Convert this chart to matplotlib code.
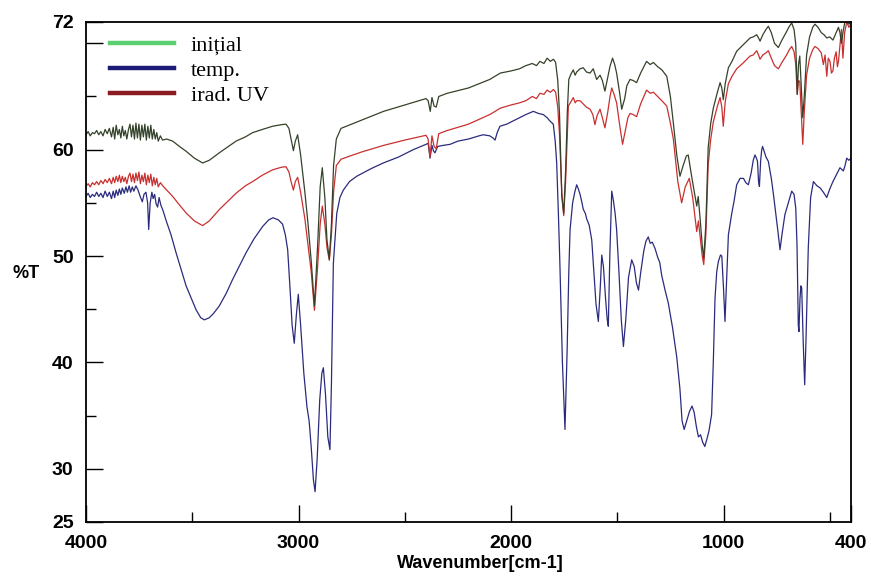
import numpy as np
import matplotlib
matplotlib.use('Agg')
import matplotlib.pyplot as plt
from matplotlib.lines import Line2D

# spectre IR: initial / temp. / irad. UV
wn_initial = [4000, 3990, 3980, 3970, 3960, 3950, 3940, 3930, 3920, 3910, 3900, 3890, 3880, 3872, 3865,
              3858, 3850, 3843, 3836, 3829, 3822, 3815, 3808, 3800, 3793, 3786, 3779, 3772, 3765, 3758,
              3751, 3744, 3737, 3730, 3723, 3716, 3709, 3702, 3695, 3688, 3681, 3674, 3667, 3660, 3650,
              3640, 3620, 3592, 3560, 3529, 3490, 3451, 3420, 3373, 3330, 3294, 3250, 3216, 3170, 3122,
              3080, 3059, 3045, 3035, 3024, 3015, 3004, 2990, 2970, 2955, 2940, 2925, 2910, 2898, 2888,
              2876, 2866, 2855, 2845, 2835, 2822, 2800, 2700, 2600, 2500, 2400, 2390, 2380, 2372, 2362,
              2352, 2340, 2300, 2200, 2100, 2050, 2000, 1960, 1930, 1900, 1880, 1864, 1845, 1830, 1815,
              1800, 1790, 1780, 1772, 1761, 1752, 1743, 1735, 1728, 1718, 1707, 1698, 1691, 1675, 1660,
              1645, 1628, 1613, 1597, 1581, 1570, 1558, 1545, 1534, 1522, 1512, 1503, 1490, 1479, 1465,
              1455, 1440, 1425, 1409, 1390, 1375, 1362, 1345, 1330, 1310, 1290, 1267, 1250, 1236, 1220,
              1205, 1190, 1175, 1166, 1150, 1126, 1119, 1110, 1100, 1093, 1083, 1072, 1060, 1048, 1030,
              1016, 1008, 1001, 992, 977, 960, 938, 910, 875, 860, 844, 835, 828, 815, 800,
              789, 775, 760, 742, 725, 703, 690, 679, 668, 660, 653, 647, 641, 634, 627,
              620, 609, 595, 580, 570, 555, 540, 527, 514, 500, 485, 472, 459, 452, 445,
              438, 428, 420, 410, 400]
t_initial = [61.4, 61.7, 61.3, 61.6, 61.5, 61.8, 61.4, 61.7, 61.3, 61.9, 61.5, 62.0, 61.2, 62.1, 61.0,
             62.3, 61.4, 61.9, 61.1, 62.2, 61.3, 61.8, 61.0, 61.9, 62.4, 61.2, 62.3, 61.0, 62.5, 61.1,
             62.4, 60.9, 62.3, 61.2, 62.4, 60.9, 62.2, 61.1, 62.3, 61.0, 61.9, 61.0, 61.6, 60.8, 61.3,
             60.9, 61.0, 60.8, 60.3, 59.85, 59.2, 58.75, 59.0, 59.7, 60.3, 60.8, 61.2, 61.6, 61.9, 62.2,
             62.35, 62.4, 62.0, 61.0, 59.9, 60.8, 61.4, 59.5, 56.0, 53.0, 49.5, 45.3, 51.0, 56.5, 58.3,
             55.5, 51.5, 49.7, 53.0, 58.5, 61.0, 62.0, 62.8, 63.6, 64.2, 64.8, 64.6, 63.6, 64.9, 64.1,
             64.0, 65.0, 65.3, 65.8, 66.6, 67.2, 67.4, 67.6, 67.9, 68.1, 67.9, 68.3, 68.1, 68.6, 68.3,
             68.5, 68.2, 66.5, 63.5, 55.6, 54.0, 58.0, 63.5, 66.6, 67.1, 67.5, 67.0, 67.3, 67.6, 67.7,
             67.3, 67.2, 67.6, 66.6, 67.0, 66.5, 65.5, 66.8, 67.85, 68.6, 68.0, 67.2, 65.5, 63.8, 64.8,
             66.0, 66.6, 66.5, 66.3, 67.2, 67.8, 68.3, 68.0, 68.2, 67.8, 67.5, 66.9, 65.0, 62.5, 59.5,
             57.5, 58.5, 59.4, 59.5, 57.5, 54.7, 55.6, 53.5, 51.0, 49.8, 53.0, 60.2, 62.5, 63.9, 65.3,
             66.3, 65.8, 64.7, 66.2, 67.7, 68.3, 69.25, 69.8, 70.5, 70.6, 70.8, 70.5, 70.2, 70.8, 71.3,
             71.6, 71.0, 70.0, 69.6, 70.3, 71.1, 71.6, 71.9, 71.3, 69.9, 65.2, 68.0, 68.8, 66.0, 63.0,
             65.0, 68.9, 70.6, 71.5, 71.8, 71.5, 71.0, 70.8, 70.5, 70.6, 70.3, 70.9, 71.5, 71.0, 70.0,
             71.0, 72.1, 72.0, 71.8, 72.0]

wn_temp = [4000, 3990, 3980, 3970, 3960, 3950, 3940, 3930, 3920, 3910, 3900, 3890, 3880, 3872, 3865,
           3858, 3850, 3843, 3836, 3829, 3820, 3812, 3805, 3797, 3790, 3782, 3775, 3765, 3755, 3745,
           3735, 3727, 3718, 3710, 3705, 3698, 3690, 3684, 3677, 3670, 3663, 3656, 3648, 3638, 3624,
           3600, 3576, 3550, 3529, 3500, 3482, 3460, 3443, 3420, 3400, 3373, 3340, 3310, 3280, 3247,
           3210, 3168, 3140, 3120, 3095, 3075, 3062, 3051, 3040, 3030, 3020, 3010, 3001, 2990, 2975,
           2960, 2950, 2940, 2930, 2922, 2912, 2900, 2890, 2883, 2873, 2862, 2852, 2845, 2836, 2820,
           2805, 2789, 2760, 2726, 2660, 2601, 2530, 2460, 2400, 2390, 2381, 2372, 2365, 2358, 2345,
           2320, 2287, 2250, 2200, 2150, 2131, 2100, 2085, 2075, 2065, 2052, 2020, 2000, 1960, 1930,
           1895, 1870, 1848, 1830, 1817, 1801, 1792, 1785, 1777, 1770, 1758, 1746, 1736, 1728, 1722,
           1710, 1700, 1691, 1683, 1675, 1668, 1660, 1650, 1644, 1632, 1620, 1610, 1600, 1589, 1580,
           1573, 1565, 1555, 1547, 1542, 1535, 1526, 1518, 1510, 1503, 1492, 1481, 1471, 1460, 1447,
           1432, 1420, 1410, 1400, 1390, 1375, 1365, 1354, 1345, 1335, 1322, 1310, 1300, 1291, 1275,
           1260, 1240, 1220, 1205, 1195, 1185, 1172, 1160, 1148, 1138, 1128, 1118, 1108, 1098, 1088,
           1078, 1068, 1056, 1048, 1040, 1032, 1024, 1014, 1008, 1000, 993, 985, 977, 962, 950,
           938, 922, 906, 895, 883, 870, 860, 852, 845, 840, 835, 831, 825, 820, 816,
           808, 800, 789, 775, 765, 757, 745, 734, 725, 711, 695, 679, 668, 660, 654,
           648, 645, 640, 636, 632, 625, 618, 612, 605, 601, 590, 577, 560, 545, 530,
           514, 500, 485, 470, 452, 436, 428, 420, 410, 400]
t_temp = [55.6, 55.9, 55.5, 55.8, 55.6, 56.0, 55.6, 55.9, 55.5, 56.1, 55.6, 56.0, 55.4, 56.1, 55.5,
          56.2, 55.7, 56.3, 55.8, 56.4, 55.9, 56.5, 56.0, 56.6, 56.0, 56.5, 56.1, 56.6, 56.2, 55.6,
          55.1, 55.8, 56.0, 55.0, 52.5, 55.0, 56.0, 55.4, 55.8, 54.9, 54.6, 55.5, 54.8, 54.3, 53.4,
          52.0, 50.3, 48.6, 47.2, 45.8, 44.95, 44.2, 44.0, 44.2, 44.6, 45.3, 46.5, 47.8, 49.0, 50.3,
          51.6, 52.8, 53.4, 53.6, 53.4, 53.0, 52.0, 50.6, 47.0, 43.5, 41.8, 44.5, 46.4, 43.5, 39.0,
          35.8, 34.5, 32.0, 29.0, 27.85, 31.0, 36.5, 39.0, 39.5, 37.0, 33.0, 31.8, 38.0, 49.3, 54.0,
          55.5, 56.2, 57.0, 57.5, 58.2, 58.75, 59.3, 60.0, 60.5, 60.6, 59.2, 60.4, 59.9, 59.7, 60.3,
          60.4, 60.5, 60.8, 61.0, 61.3, 61.4, 61.3, 61.1, 60.9, 61.6, 62.2, 62.4, 62.6, 63.0, 63.3,
          63.6, 63.4, 63.3, 63.0, 62.7, 62.4, 60.8, 58.75, 54.0, 49.3, 40.0, 33.7, 41.0, 48.5, 52.5,
          55.0, 56.0, 56.7, 56.3, 55.8, 55.2, 54.4, 54.0, 53.5, 52.9, 51.5, 48.5, 45.5, 43.85, 47.0,
          50.1, 49.0, 46.0, 44.0, 43.4, 50.0, 56.1, 55.2, 54.0, 52.5, 48.5, 44.0, 41.5, 44.0, 48.0,
          49.65, 49.0, 47.5, 46.8, 48.4, 50.5, 51.4, 51.8, 51.2, 51.3, 50.7, 49.9, 49.4, 48.2, 46.8,
          45.6, 43.3, 40.5, 37.5, 34.5, 33.7, 34.6, 35.4, 35.9, 35.3, 34.0, 33.0, 33.2, 32.5, 32.1,
          32.8, 33.6, 35.1, 40.0, 46.0, 48.5, 49.5, 50.1, 50.0, 47.0, 43.85, 48.0, 52.0, 53.9, 55.2,
          56.7, 57.3, 57.3, 56.9, 56.7, 57.8, 59.0, 59.5, 59.2, 58.9, 57.0, 56.55, 59.0, 60.0, 60.3,
          59.8, 59.3, 58.9, 57.3, 55.8, 54.5, 52.5, 50.6, 52.0, 53.9, 55.0, 56.1, 55.8, 54.5, 51.0,
          43.5, 42.9, 46.0, 47.2, 47.0, 42.0, 37.9, 42.0, 47.5, 50.8, 55.5, 57.0, 56.6, 56.4, 56.0,
          55.5, 56.3, 57.0, 57.6, 58.3, 58.0, 58.5, 59.2, 59.0, 59.2]

wn_uv = [4000, 3990, 3980, 3970, 3960, 3950, 3940, 3930, 3920, 3910, 3900, 3890, 3880, 3872, 3865,
         3858, 3850, 3843, 3836, 3829, 3822, 3815, 3808, 3800, 3793, 3786, 3779, 3772, 3765, 3758,
         3751, 3744, 3737, 3730, 3723, 3716, 3709, 3702, 3695, 3688, 3681, 3674, 3667, 3660, 3650,
         3639, 3620, 3592, 3560, 3529, 3490, 3451, 3420, 3373, 3330, 3294, 3250, 3216, 3170, 3122,
         3080, 3059, 3045, 3035, 3024, 3015, 3004, 2990, 2970, 2955, 2940, 2925, 2910, 2898, 2888,
         2876, 2866, 2855, 2845, 2835, 2822, 2800, 2758, 2700, 2600, 2500, 2400, 2390, 2381, 2372,
         2362, 2352, 2340, 2300, 2200, 2100, 2050, 2000, 1960, 1930, 1900, 1880, 1864, 1845, 1830,
         1815, 1800, 1790, 1780, 1772, 1761, 1752, 1743, 1735, 1730, 1718, 1707, 1698, 1691, 1675,
         1660, 1645, 1628, 1615, 1605, 1595, 1581, 1570, 1558, 1545, 1534, 1526, 1515, 1503, 1490,
         1475, 1460, 1450, 1440, 1425, 1409, 1390, 1375, 1362, 1345, 1330, 1310, 1290, 1267, 1250,
         1236, 1215, 1197, 1180, 1161, 1145, 1126, 1118, 1108, 1100, 1093, 1083, 1072, 1060, 1048,
         1030, 1016, 1008, 1001, 992, 977, 960, 938, 910, 875, 860, 844, 835, 828, 815,
         800, 789, 775, 760, 742, 725, 703, 690, 679, 668, 660, 653, 647, 641, 634,
         627, 620, 609, 595, 580, 570, 555, 540, 530, 522, 514, 507, 499, 492, 485,
         478, 470, 464, 459, 452, 445, 438, 430, 420, 410, 400]
t_uv = [56.55, 56.8, 56.5, 56.9, 56.7, 57.0, 56.7, 57.1, 56.8, 57.2, 56.9, 57.3, 56.8, 57.4, 56.9,
        57.5, 57.0, 57.6, 56.9, 57.5, 57.0, 57.4, 56.8, 57.5, 57.8, 57.0, 57.7, 56.9, 57.8, 57.1,
        57.9, 56.8, 57.6, 57.0, 57.8, 56.7, 57.6, 56.9, 57.7, 56.6, 57.4, 56.7, 57.3, 56.5, 56.9,
        56.6, 56.2, 55.6, 54.8, 54.05, 53.3, 52.86, 53.3, 54.36, 55.2, 55.9, 56.6, 57.0, 57.6, 58.1,
        58.35, 58.4, 57.9, 57.0, 56.2, 57.0, 57.4, 56.0, 53.5, 51.0, 48.5, 44.9, 49.0, 53.0, 54.7,
        53.0, 50.8, 49.6, 52.0, 56.0, 58.5, 59.1, 59.4, 59.8, 60.4, 60.9, 61.35, 61.0, 59.3, 61.3,
        60.3, 60.1, 61.5, 61.8, 62.4, 63.3, 63.9, 64.2, 64.4, 64.6, 65.0, 64.8, 65.3, 65.2, 65.6,
        65.4, 65.65, 65.4, 64.0, 61.5, 56.0, 53.8, 57.0, 61.5, 64.1, 64.5, 64.9, 64.4, 64.6, 64.6,
        64.3, 64.0, 63.8, 63.3, 62.35, 63.2, 63.8, 63.0, 62.05, 63.5, 65.0, 65.8, 65.2, 64.4, 62.5,
        60.5, 62.0, 63.0, 63.4, 63.3, 63.1, 64.3, 65.0, 65.6, 65.3, 65.4, 65.0, 64.6, 64.1, 62.5,
        61.0, 57.0, 55.0, 56.5, 57.3, 55.5, 52.3, 53.3, 51.5, 50.0, 49.2, 52.0, 58.6, 61.0, 62.6,
        64.0, 64.9, 64.0, 62.2, 64.5, 66.2, 66.9, 67.6, 68.1, 68.8, 68.9, 69.3, 68.9, 68.5, 68.9,
        69.1, 69.3, 68.6, 67.9, 67.6, 68.2, 68.9, 69.4, 69.7, 69.2, 68.0, 65.2, 66.5, 66.4, 63.5,
        60.5, 63.5, 67.0, 68.6, 69.4, 69.7, 69.5, 69.1, 68.0, 68.9, 66.9, 68.6, 68.3, 67.2, 67.4,
        68.6, 69.2, 67.8, 68.3, 69.8, 71.3, 68.6, 71.0, 72.0, 71.5, 71.8]

labels = ['inițial', 'temp.', 'irad. UV']
line_colors = ['#34422a', '#2b2b7e', '#c8302f']
legend_colors = ['#5ccf70', '#1c1c78', '#8a1b22']

plt.rcParams['font.family'] = ['Liberation Sans', 'DejaVu Sans']

fig = plt.figure(figsize=(8.71, 5.81), dpi=100)
ax = fig.add_axes([86 / 871, 1 - 522 / 581, 765 / 871, 500 / 581])

ax.plot(wn_temp, t_temp, color=line_colors[1], lw=0.9)
ax.plot(wn_uv, t_uv, color=line_colors[2], lw=0.9)
ax.plot(wn_initial, t_initial, color=line_colors[0], lw=0.9)

ax.set_xlim(4000, 400)
ax.set_ylim(25, 72)

ax.set_xticks([4000, 3000, 2000, 1000, 400])
ax.set_xticklabels(['4000', '3000', '2000', '1000', '400'])
ax.set_xticks([3500, 2500, 1500, 500], minor=True)
ax.set_yticks([25, 30, 40, 50, 60, 70, 72])
ax.set_yticklabels(['25', '30', '40', '50', '60', '', '72'])
ax.set_yticks([35, 45, 55, 65], minor=True)

ax.tick_params(which='major', direction='in', length=12, width=1.0, pad=9,
               labelsize=14)
ax.tick_params(which='minor', direction='in', length=7, width=1.0)
for lab in ax.get_xticklabels() + ax.get_yticklabels():
    lab.set_fontweight('bold')

for sp in ax.spines.values():
    sp.set_linewidth(1.3)

ax.set_xlabel('Wavenumber[cm-1]', fontsize=13, fontweight='bold')
ax.xaxis.set_label_coords(0.515, -0.066)
ax.set_ylabel('%T', fontsize=13, fontweight='bold', rotation=0)
ax.yaxis.set_label_coords(-0.078, 0.48)

handles = [Line2D([], [], color=c, lw=3.2) for c in legend_colors]
ax.legend(handles, labels, loc='upper left', bbox_to_anchor=(0.031, 0.974),
          frameon=False, borderpad=0, borderaxespad=0, handlelength=2.9,
          handletextpad=0.75, labelspacing=0.2,
          prop={'family': 'Liberation Serif', 'size': 16})

fig.savefig('out.png', dpi=100)
